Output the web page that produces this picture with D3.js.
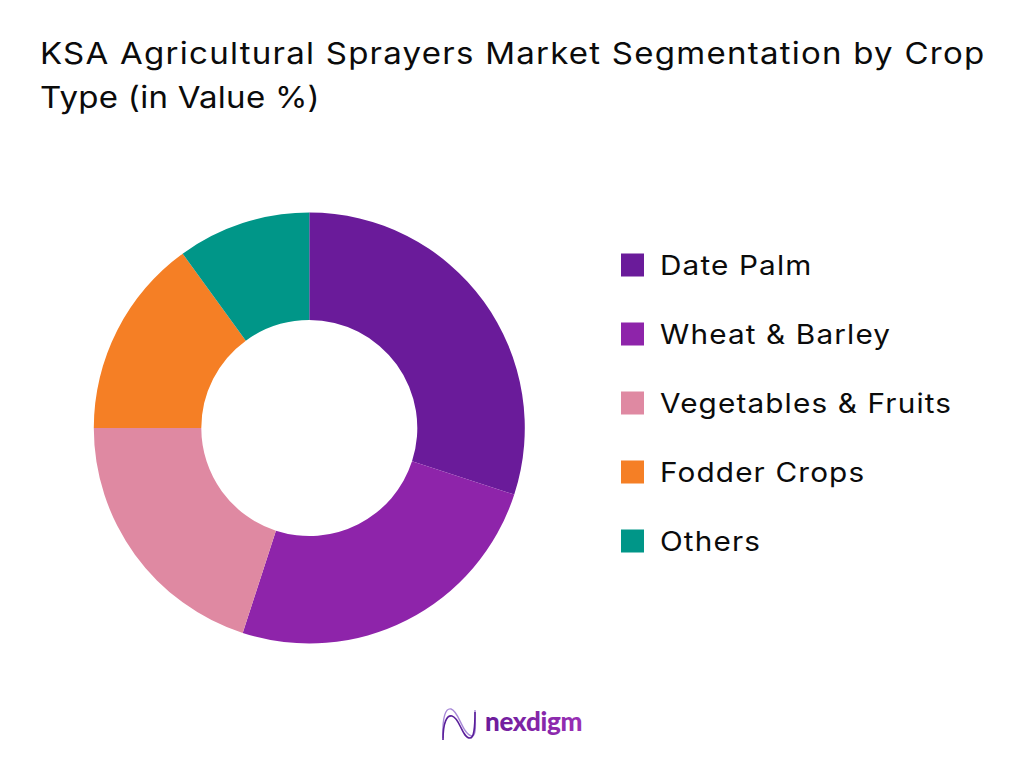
<!DOCTYPE html>
<html lang="en">
<head>
<meta charset="UTF-8">
<title>KSA Agricultural Sprayers Market Segmentation</title>
<script src="https://d3js.org/d3.v7.min.js"></script>
<style>
  html, body { margin: 0; padding: 0; background: #fff; }
  svg { display: block; }
  text { font-family: "Inter", "Lato", sans-serif; fill: #0b0b0b; }
</style>
</head>
<body>
<svg id="chart" width="1024" height="768"></svg>
<script>
// chart data
var categories = ["Date Palm", "Wheat & Barley", "Vegetables & Fruits", "Fodder Crops", "Others"];
var shares = [30, 25, 20, 15, 10];
var colors = ["#6a1b9a", "#8e24aa", "#df89a2", "#f57f25", "#009688"];
var titleLines = ["KSA Agricultural Sprayers Market Segmentation by Crop", "Type (in Value %)"];

var svg = d3.select("#chart");

// title, stretched a bit since the original face is wider than Inter
svg.selectAll("text.title")
  .data(titleLines)
  .enter()
  .append("text")
  .attr("class", "title")
  .attr("transform", function(d, i) { return "translate(40," + (64 + i * 44) + ") scale(1.1,1)"; })
  .attr("font-size", 30)
  .attr("letter-spacing", function(d, i) { return i == 0 ? 1.15 : 0.25; })
  .text(function(d) { return d; });

// donut
var pie = d3.pie().sort(null).value(function(d) { return d; });
var arc = d3.arc().innerRadius(108).outerRadius(215.5);

svg.append("g")
  .attr("transform", "translate(309.3,428)")
  .selectAll("path")
  .data(pie(shares))
  .enter()
  .append("path")
  .attr("d", arc)
  .attr("fill", function(d, i) { return colors[i]; });

// legend
var legendY = d3.scalePoint().domain(categories).range([265, 541]);

var legend = svg.selectAll("g.legend")
  .data(categories)
  .enter()
  .append("g")
  .attr("class", "legend")
  .attr("transform", function(d) { return "translate(0," + legendY(d) + ")"; });

legend.append("rect")
  .attr("x", 621)
  .attr("y", -11.5)
  .attr("width", 23)
  .attr("height", 23)
  .attr("fill", function(d, i) { return colors[i]; });

legend.append("text")
  .attr("transform", "translate(660,10) scale(1.1,1)")
  .attr("font-size", 27)
  .attr("letter-spacing", 1.05)
  .text(function(d) { return d; });

// logo
var defs = svg.append("defs");
var grad = defs.append("linearGradient").attr("id", "logoGrad");
grad.append("stop").attr("offset", "0%").attr("stop-color", "#6a1b9a");
grad.append("stop").attr("offset", "100%").attr("stop-color", "#9a2fb5");

var logo = svg.append("g").attr("transform", "translate(442,708)");
logo.append("path")
  .attr("d", "M1,30 C0,8 4,0 9,1 C17,3 20,26 30,28 C35,28 33,12 33,2")
  .attr("fill", "none").attr("stroke", "#a98ad8").attr("stroke-width", 1.4);
logo.append("path")
  .attr("d", "M1,32 C1,14 5,7 10,8 C18,10 20,30 28,30 C32,30 33,20 33,4")
  .attr("fill", "none").attr("stroke", "#5a1f9a").attr("stroke-width", 1.6);
svg.append("text")
  .attr("x", 485)
  .attr("y", 731)
  .attr("font-size", 26)
  .attr("font-weight", 900)
  .attr("letter-spacing", -0.3)
  .style("font-family", "Lato")
  .style("fill", "url(#logoGrad)")
  .text("nexdigm");
</script>
</body>
</html>
